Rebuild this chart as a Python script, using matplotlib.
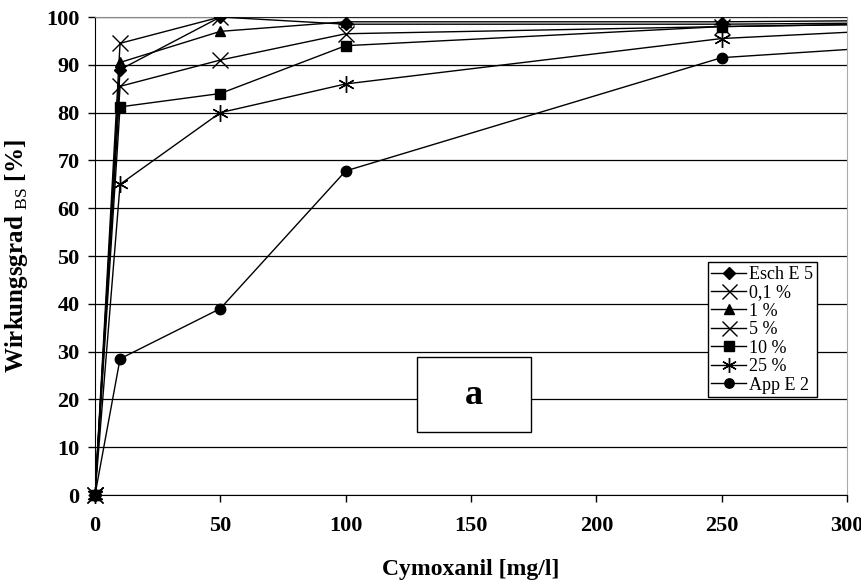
import matplotlib.pyplot as plt
import matplotlib.patches as patches
import numpy as np

plt.rcParams['font.family'] = 'Liberation Serif'
plt.rcParams['mathtext.fontset'] = 'custom'
plt.rcParams['mathtext.rm'] = 'Liberation Serif'

# Cymoxanil concentration (mg/l); last point lies outside the shown range
x = [0, 10, 50, 100, 250, 500]

esch_e5 = [0, 89.0, 100.0, 98.5, 98.5, 99.5]
p01 = [0, 94.5, 100.0, 100.0, 100.0, 100.0]
p1 = [0, 90.5, 97.0, 99.0, 99.0, 100.0]
p5 = [0, 85.5, 91.0, 96.5, 98.0, 100.0]
p10 = [0, 81.2, 84.0, 94.0, 98.0, 100.0]
p25 = [0, 65.0, 80.0, 86.0, 95.5, 102.0]
app_e2 = [0, 28.5, 39.0, 67.8, 91.5, 100.0]

series = [
    ('Esch E 5', esch_e5, 'D', 6.5),
    ('0,1 %', p01, 'x', 12),
    ('1 %', p1, '^', 7.5),
    ('5 %', p5, 'x', 12),
    ('10 %', p10, 's', 7.5),
    ('25 %', p25, (6, 2, 0), 12),
    ('App E 2', app_e2, 'o', 7.5),
]

fig = plt.figure(figsize=(8.62, 5.87), dpi=100)
ax = fig.add_axes([0.1102, 0.1567, 0.8724, 0.8143])

for name, vals, mk, ms in series:
    ax.plot(x, vals, color='black', lw=1, marker=mk, markersize=ms,
            markerfacecolor='black', markeredgecolor='black', mew=1,
            label=name, zorder=3)
    # marker at origin drawn unclipped
    ax.plot(x[:1], vals[:1], ls='none', marker=mk, markersize=ms,
            markerfacecolor='black', markeredgecolor='black', mew=1,
            clip_on=False, zorder=4)

ax.set_xlim(0, 300)
ax.set_ylim(0, 100)
ax.set_xticks(np.arange(0, 301, 50))
ax.set_yticks(np.arange(0, 101, 10))
ax.yaxis.grid(True, color='black', lw=0.9)
ax.set_axisbelow(True)

for lab in ax.get_xticklabels() + ax.get_yticklabels():
    lab.set_fontweight('bold')
    lab.set_fontsize(16)
ax.tick_params(axis='both', direction='out', length=5, width=1, color='black')
ax.tick_params(axis='x', pad=10)
ax.tick_params(axis='y', pad=6)

ax.spines['top'].set_color('#888888')
ax.spines['right'].set_color('#aaaaaa')
ax.spines['left'].set_color('black')
ax.spines['bottom'].set_color('black')

ax.set_xlabel('Cymoxanil [mg/l]', fontsize=17, fontweight='bold', labelpad=17)
ax.set_ylabel(r'Wirkungsgrad $_{\mathrm{BS}}$ [%]', fontsize=18,
              fontweight='bold', labelpad=12)

leg = ax.legend(loc='upper left', bbox_to_anchor=(0.815, 0.487), fontsize=13,
                frameon=True, fancybox=False, edgecolor='black',
                handlelength=1.9, handletextpad=0.2, borderpad=0.2,
                labelspacing=0.08, borderaxespad=0, markerscale=0.9)
leg.get_frame().set_linewidth(1)
leg.get_frame().set_alpha(1)

box = patches.Rectangle((0.428, 0.132), 0.152, 0.157, transform=ax.transAxes,
                        fc='white', ec='black', lw=1, zorder=5)
ax.add_patch(box)
ax.text(0.504, 0.209, 'a', transform=ax.transAxes, fontsize=26,
        fontweight='bold', ha='center', va='center', zorder=6)

fig.savefig('out.png', dpi=100)
